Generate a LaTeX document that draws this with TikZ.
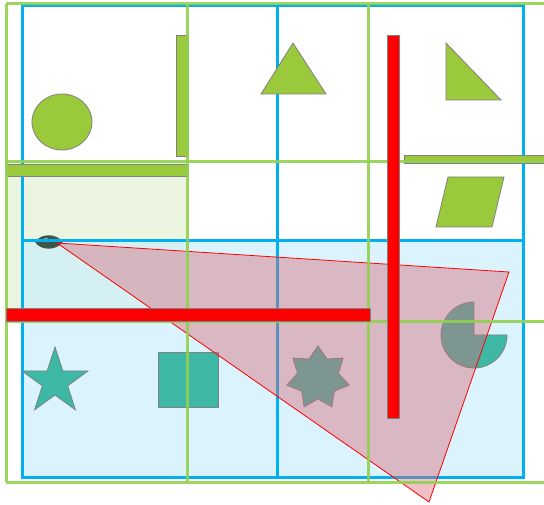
\documentclass[tikz,border=0pt]{standalone}
\usetikzlibrary{calc}
\definecolor{gline}{HTML}{92D050}
\definecolor{gfill}{HTML}{9ACA3C}
\definecolor{bline}{HTML}{00B0F0}
\definecolor{teal2}{HTML}{3CB8A4}
\definecolor{pinkf}{HTML}{D86878}
\definecolor{paleg}{HTML}{EAF4DE}
\definecolor{paleb}{HTML}{CDEFFB}
\definecolor{eyec}{HTML}{3F5548}
\tikzset{
  greengrid/.style={draw=gline, line width=3pt, opacity=0.9},
  bluegrid/.style={draw=bline, line width=3pt},
  gshape/.style={fill=gfill, draw=gray, line width=0.8pt},
  tshape/.style={fill=teal2, draw=gray, line width=0.8pt},
  redbar/.style={fill=red, draw=gray, line width=0.8pt},
  pinktri/.style={fill=pinkf, fill opacity=0.42, draw=red, line width=0.8pt}
}
\begin{document}
\begin{tikzpicture}[x=1pt,y=-1pt]
\useasboundingbox (0,0) rectangle (544,505);
% pale fills
\fill[paleg] (6,162) rectangle (187,322);
\fill[paleb, opacity=0.75] (22,241) rectangle (523,477);
% eye
\fill[eyec] (35,242) .. controls (41,233) and (56,233) .. (63,242) .. controls (56,251) and (41,251) .. (35,242) -- cycle;
\fill[gray!60] (46,240) circle[radius=2.2];
% blue grid
\draw[bluegrid] (22,6) rectangle (523,477);
\draw[bluegrid] (277,6) -- (277,477);
\draw[bluegrid] (22,241) -- (523,241);
% green shapes
\draw[gshape] (62,122) ellipse[x radius=30, y radius=28];
\draw[gshape] (176,35) rectangle (188,156);
\draw[gshape] (6,164) rectangle (188,176);
\draw[gshape] (293,43) -- (326,94) -- (261,94) -- cycle;
\draw[gshape] (446,43) -- (501,100) -- (446,100) -- cycle;
\draw[gshape] (404,155) rectangle (546,163);
\draw[gshape] (448,177) -- (504,177) -- (492,227) -- (436,227) -- cycle;
% teal shapes
\coordinate (s5) at (55,381.7);
\draw[tshape] ($(s5)+(-90:34.7)$) \foreach \i in {1,...,9} { -- ($(s5)+({\i*36-90}:{mod(\i,2)==0?34.7:13.3})$) } -- cycle;
\draw[tshape] (158,352) rectangle (218,407);
\coordinate (s7) at (318,378);
\draw[tshape] ($(s7)+(-90:32)$) \foreach \i in {1,...,13} { -- ($(s7)+({\i*180/7-90}:{mod(\i,2)==0?32:21})$) } -- cycle;
\coordinate (pc) at (474,335);
\draw[tshape] (pc) -- (507,335) arc[start angle=0, end angle=270, radius=33] -- cycle;
% pink triangle
\draw[pinktri] (57,243) -- (509,272) -- (429,502) -- cycle;
% green grid
\draw[greengrid] (6,4) -- (546,4);
\draw[greengrid] (6,162) -- (546,162);
\draw[greengrid] (6,322) -- (546,322);
\draw[greengrid] (6,482) -- (546,482);
\draw[greengrid] (6,4) -- (6,482);
\draw[greengrid] (187,4) -- (187,482);
\draw[greengrid] (368,4) -- (368,482);
% red bars
\draw[redbar] (387,35) rectangle (399,418);
\draw[redbar] (6,308) rectangle (370,321);
\end{tikzpicture}
\end{document}
